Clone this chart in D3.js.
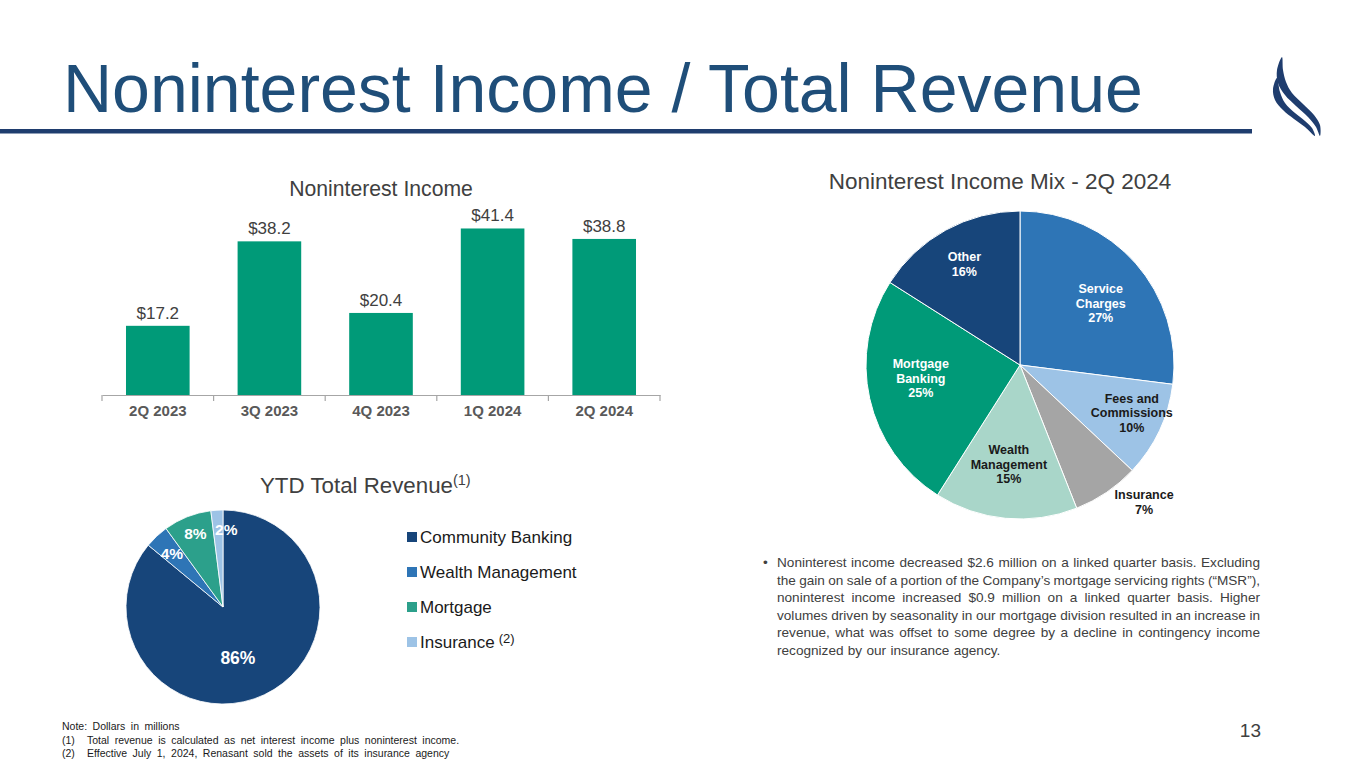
<!DOCTYPE html>
<html>
<head>
<meta charset="utf-8">
<script src="https://cdn.jsdelivr.net/npm/d3@7"></script>
<style>
  html, body { margin: 0; padding: 0; background: #fff; }
  svg { display: block; font-family: "Liberation Sans", Arial, sans-serif; }
</style>
</head>
<body>
<svg id="slide" width="1365" height="768"></svg>
<script>
// ---- data ----
const quarters = ['2Q 2023', '3Q 2023', '4Q 2023', '1Q 2024', '2Q 2024'];
const noninterestIncome = [17.2, 38.2, 20.4, 41.4, 38.8];

const mixCategories = ['Service Charges', 'Fees and Commissions', 'Insurance', 'Wealth Management', 'Mortgage Banking', 'Other'];
const mixShares = [27, 10, 7, 15, 25, 16];

const revenueSegments = ['Community Banking', 'Wealth Management', 'Mortgage', 'Insurance'];
const revenueShares = [86, 4, 8, 2];

const bulletLines = [
    'Noninterest income decreased $2.6 million on a linked quarter basis. Excluding',
    'the gain on sale of a portion of the Company\u2019s mortgage servicing rights (\u201cMSR\u201d),',
    'noninterest income increased $0.9 million on a linked quarter basis. Higher',
    'volumes driven by seasonality in our mortgage division resulted in an increase in',
    'revenue, what was offset to some degree by a decline in contingency income',
    'recognized by our insurance agency.'
];

const footnotes = [
    ['', 'Note: Dollars in millions'],
    ['(1)', 'Total revenue is calculated as net interest income plus noninterest income.'],
    ['(2)', 'Effective July 1, 2024, Renasant sold the assets of its insurance agency']
];

// ---- styles ----
const NAVY = '#1f4e79';
const GREEN = '#009a78';
const GRAY_TEXT = '#404040';
const mixColors = ['#2e75b6', '#9dc3e6', '#a5a5a5', '#a9d6c9', GREEN, '#17457a'];
const mixLabelFill = ['#fff', '#1a1a1a', '#1a1a1a', '#1a1a1a', '#fff', '#fff'];
const mixLabelRadius = [0.66, 0.79, 1.2, 0.65, 0.65, 0.75];
const mixLabelTurn = [4, -2, -8, 1, 5, 0];
const revColors = ['#17457a', '#2e75b6', '#2ca08b', '#9dc3e6'];
const revLabelRadius = [0.55, 0.77, 0.81, 0.8];
const revLabelTurn = [9, 0, 1, 6];

const svg = d3.select('#slide');

// ---- header ----
svg.append('text')
    .attr('x', 63)
    .attr('y', 112)
    .attr('fill', NAVY)
    .style('font-size', '68px')
    .text('Noninterest Income / Total Revenue');

svg.append('rect')
    .attr('x', 0)
    .attr('y', 129)
    .attr('width', 1252)
    .attr('height', 4.5)
    .attr('fill', '#1f3d6e');

// logo: two crescent swooshes (outline)
const swooshUpper = [[1282, 57], [1277, 70], [1278, 83], [1285, 95], [1296, 106], [1308, 117], [1316, 127], [1320, 136],
                     [1320, 125], [1314, 115], [1303, 104], [1292, 93], [1286, 82], [1283, 70]];
const swooshLower = [[1277, 78], [1273, 89], [1275, 100], [1283, 110], [1294, 119], [1305, 127], [1315, 136],
                     [1312, 128], [1305, 121], [1295, 113], [1285, 103], [1280, 92]];
const swooshLine = d3.line().curve(d3.curveCatmullRomClosed.alpha(0.5));
svg.append('g')
    .attr('fill', '#1f3d6e')
    .selectAll('path')
    .data([swooshUpper, swooshLower])
    .enter().append('path')
    .attr('d', d => swooshLine(d));

// ---- bar chart: Noninterest Income ----
const x = d3.scaleBand()
    .domain(quarters)
    .range([102, 660])
    .paddingInner(0.43)
    .paddingOuter(0.215);

const y = d3.scaleLinear()
    .domain([0, 45])
    .range([395, 214]);

svg.append('text')
    .attr('x', 381)
    .attr('y', 196)
    .attr('text-anchor', 'middle')
    .attr('fill', GRAY_TEXT)
    .style('font-size', '21.2px')
    .text('Noninterest Income');

svg.append('g')
    .selectAll('rect')
    .data(quarters)
    .enter().append('rect')
    .attr('x', d => x(d))
    .attr('y', (d, i) => y(noninterestIncome[i]))
    .attr('width', x.bandwidth())
    .attr('height', (d, i) => y(0) - y(noninterestIncome[i]))
    .attr('fill', GREEN);

svg.append('g')
    .selectAll('text')
    .data(quarters)
    .enter().append('text')
    .attr('x', d => x(d) + x.bandwidth() / 2)
    .attr('y', (d, i) => y(noninterestIncome[i]) - 7)
    .attr('text-anchor', 'middle')
    .attr('fill', GRAY_TEXT)
    .style('font-size', '17px')
    .text((d, i) => '$' + noninterestIncome[i].toFixed(1));

// axis: labels from d3 axis, ticks at band boundaries
const xAxis = svg.append('g')
    .attr('transform', `translate(0,${y(0)})`)
    .call(d3.axisBottom(x).tickSize(0).tickPadding(10).tickSizeOuter(0));
xAxis.select('.domain').attr('stroke', '#a6a6a6').attr('stroke-width', 1.2);
xAxis.selectAll('text')
    .attr('fill', '#595959')
    .style('font-family', '"Liberation Sans", Arial, sans-serif')
    .style('font-size', '15px')
    .style('font-weight', 'bold');

const step = x.step();
const boundaries = quarters.map(q => x(q) - step * x.paddingInner() / 2)
    .concat([x(quarters[quarters.length - 1]) + x.bandwidth() + step * x.paddingInner() / 2]);
xAxis.selectAll('line.bound')
    .data(boundaries)
    .enter().append('line')
    .attr('class', 'bound')
    .attr('x1', d => d).attr('x2', d => d)
    .attr('y1', 0).attr('y2', 6)
    .attr('stroke', '#a6a6a6')
    .attr('stroke-width', 1.2);

// ---- pie: Noninterest Income Mix ----
const mixCx = 1020, mixCy = 365, mixR = 154;

svg.append('text')
    .attr('x', 1000)
    .attr('y', 189)
    .attr('text-anchor', 'middle')
    .attr('fill', GRAY_TEXT)
    .style('font-size', '22.5px')
    .text('Noninterest Income Mix - 2Q 2024');

const mixPie = d3.pie().sort(null).value(d => d)(mixShares);
const mixArc = d3.arc().innerRadius(0).outerRadius(mixR);

const mixG = svg.append('g').attr('transform', `translate(${mixCx},${mixCy})`);
mixG.selectAll('path')
    .data(mixPie)
    .enter().append('path')
    .attr('d', mixArc)
    .attr('fill', (d, i) => mixColors[i])
    .attr('stroke', '#fff')
    .attr('stroke-width', 1);

function wrapLabel(name) {
    if (name.indexOf(' and ') > 0) {
        const k = name.indexOf(' and ') + 4;
        return [name.slice(0, k), name.slice(k + 1)];
    }
    return name.split(' ');
}

mixG.selectAll('text')
    .data(mixPie)
    .enter().append('text')
    .attr('text-anchor', 'middle')
    .attr('fill', (d, i) => mixLabelFill[i])
    .style('font-size', '12.5px')
    .style('font-weight', 'bold')
    .each(function (d, i) {
        const a = (d.startAngle + d.endAngle) / 2 + mixLabelTurn[i] * Math.PI / 180;
        const rr = mixR * mixLabelRadius[i];
        const px = rr * Math.sin(a);
        const py = -rr * Math.cos(a);
        const lines = wrapLabel(mixCategories[i]).concat([mixShares[i] + '%']);
        const lh = 14.5;
        const top = py - (lines.length - 1) * lh / 2 + 4.5;
        d3.select(this).selectAll('tspan')
            .data(lines)
            .enter().append('tspan')
            .attr('x', px)
            .attr('y', (t, j) => top + j * lh)
            .text(t => t);
    });

// ---- pie: YTD Total Revenue ----
const revCx = 223, revCy = 607, revR = 97;

const ytdTitle = svg.append('text')
    .attr('x', 260)
    .attr('y', 493)
    .attr('fill', GRAY_TEXT)
    .style('font-size', '22.3px');
ytdTitle.append('tspan').text('YTD Total Revenue');
ytdTitle.append('tspan').attr('dy', -8).style('font-size', '14.5px').text('(1)');

const revPie = d3.pie().sort(null).value(d => d)(revenueShares);
const revArc = d3.arc().innerRadius(0).outerRadius(revR);

const revG = svg.append('g').attr('transform', `translate(${revCx},${revCy})`);
revG.selectAll('path')
    .data(revPie)
    .enter().append('path')
    .attr('d', revArc)
    .attr('fill', (d, i) => revColors[i])
    .attr('stroke', '#fff')
    .attr('stroke-width', 0.8);

revG.selectAll('text')
    .data(revPie)
    .enter().append('text')
    .attr('text-anchor', 'middle')
    .attr('fill', '#fff')
    .style('font-weight', 'bold')
    .style('font-size', (d, i) => i === 0 ? '17.5px' : '15.5px')
    .attr('x', (d, i) => {
        const a = (d.startAngle + d.endAngle) / 2 + revLabelTurn[i] * Math.PI / 180;
        return revR * revLabelRadius[i] * Math.sin(a);
    })
    .attr('y', (d, i) => {
        const a = (d.startAngle + d.endAngle) / 2 + revLabelTurn[i] * Math.PI / 180;
        return -revR * revLabelRadius[i] * Math.cos(a) + 6;
    })
    .text(d => d.data + '%');

// legend
const legend = svg.append('g')
    .selectAll('g')
    .data(revenueSegments)
    .enter().append('g')
    .attr('transform', (d, i) => `translate(407,${537 + i * 35})`);

legend.append('rect')
    .attr('x', 0)
    .attr('y', -5)
    .attr('width', 10)
    .attr('height', 10)
    .attr('fill', (d, i) => revColors[i]);

legend.append('text')
    .attr('x', 13)
    .attr('y', 6)
    .attr('fill', '#1a1a1a')
    .style('font-size', '17px')
    .each(function (d, i) {
        const t = d3.select(this);
        t.append('tspan').text(d);
        if (d === 'Insurance') {
            t.append('tspan').attr('dx', 4).attr('dy', -5).style('font-size', '13px').text('(2)');
        }
    });

// ---- commentary bullet (justified) ----
const bulletG = svg.append('g')
    .attr('fill', GRAY_TEXT)
    .style('font-size', '13.6px');

bulletG.append('text')
    .attr('x', 763)
    .attr('y', 567)
    .text('\u2022');

const textLeft = 777, textRight = 1260, lineGap = 17.6;
bulletLines.forEach((line, li) => {
    const words = line.split(' ');
    const yLine = 567 + li * lineGap;
    const t = bulletG.append('text').attr('y', yLine);
    const spans = words.map(w => t.append('tspan').text(w));
    const widths = spans.map(s => s.node().getComputedTextLength());
    const total = d3.sum(widths);
    const last = li === bulletLines.length - 1;
    const gap = last ? 4.3 : Math.max(2.5, (textRight - textLeft - total) / (words.length - 1));
    let cx = textLeft;
    spans.forEach((s, k) => {
        s.attr('x', cx);
        cx += widths[k] + gap;
    });
});

// ---- footnotes ----
const notes = svg.append('g')
    .attr('fill', '#1a1a1a')
    .style('font-size', '10.5px')
    .style('word-spacing', '2.6px');

footnotes.forEach((f, i) => {
    const yy = 730 + i * 13.5;
    if (f[0]) {
        notes.append('text').attr('x', 62).attr('y', yy).text(f[0]);
        notes.append('text').attr('x', 87).attr('y', yy).text(f[1]);
    } else {
        notes.append('text').attr('x', 62).attr('y', yy).text(f[1]);
    }
});

// page number
svg.append('text')
    .attr('x', 1261)
    .attr('y', 737)
    .attr('text-anchor', 'end')
    .attr('fill', GRAY_TEXT)
    .style('font-size', '19px')
    .text('13');
</script>
</body>
</html>
